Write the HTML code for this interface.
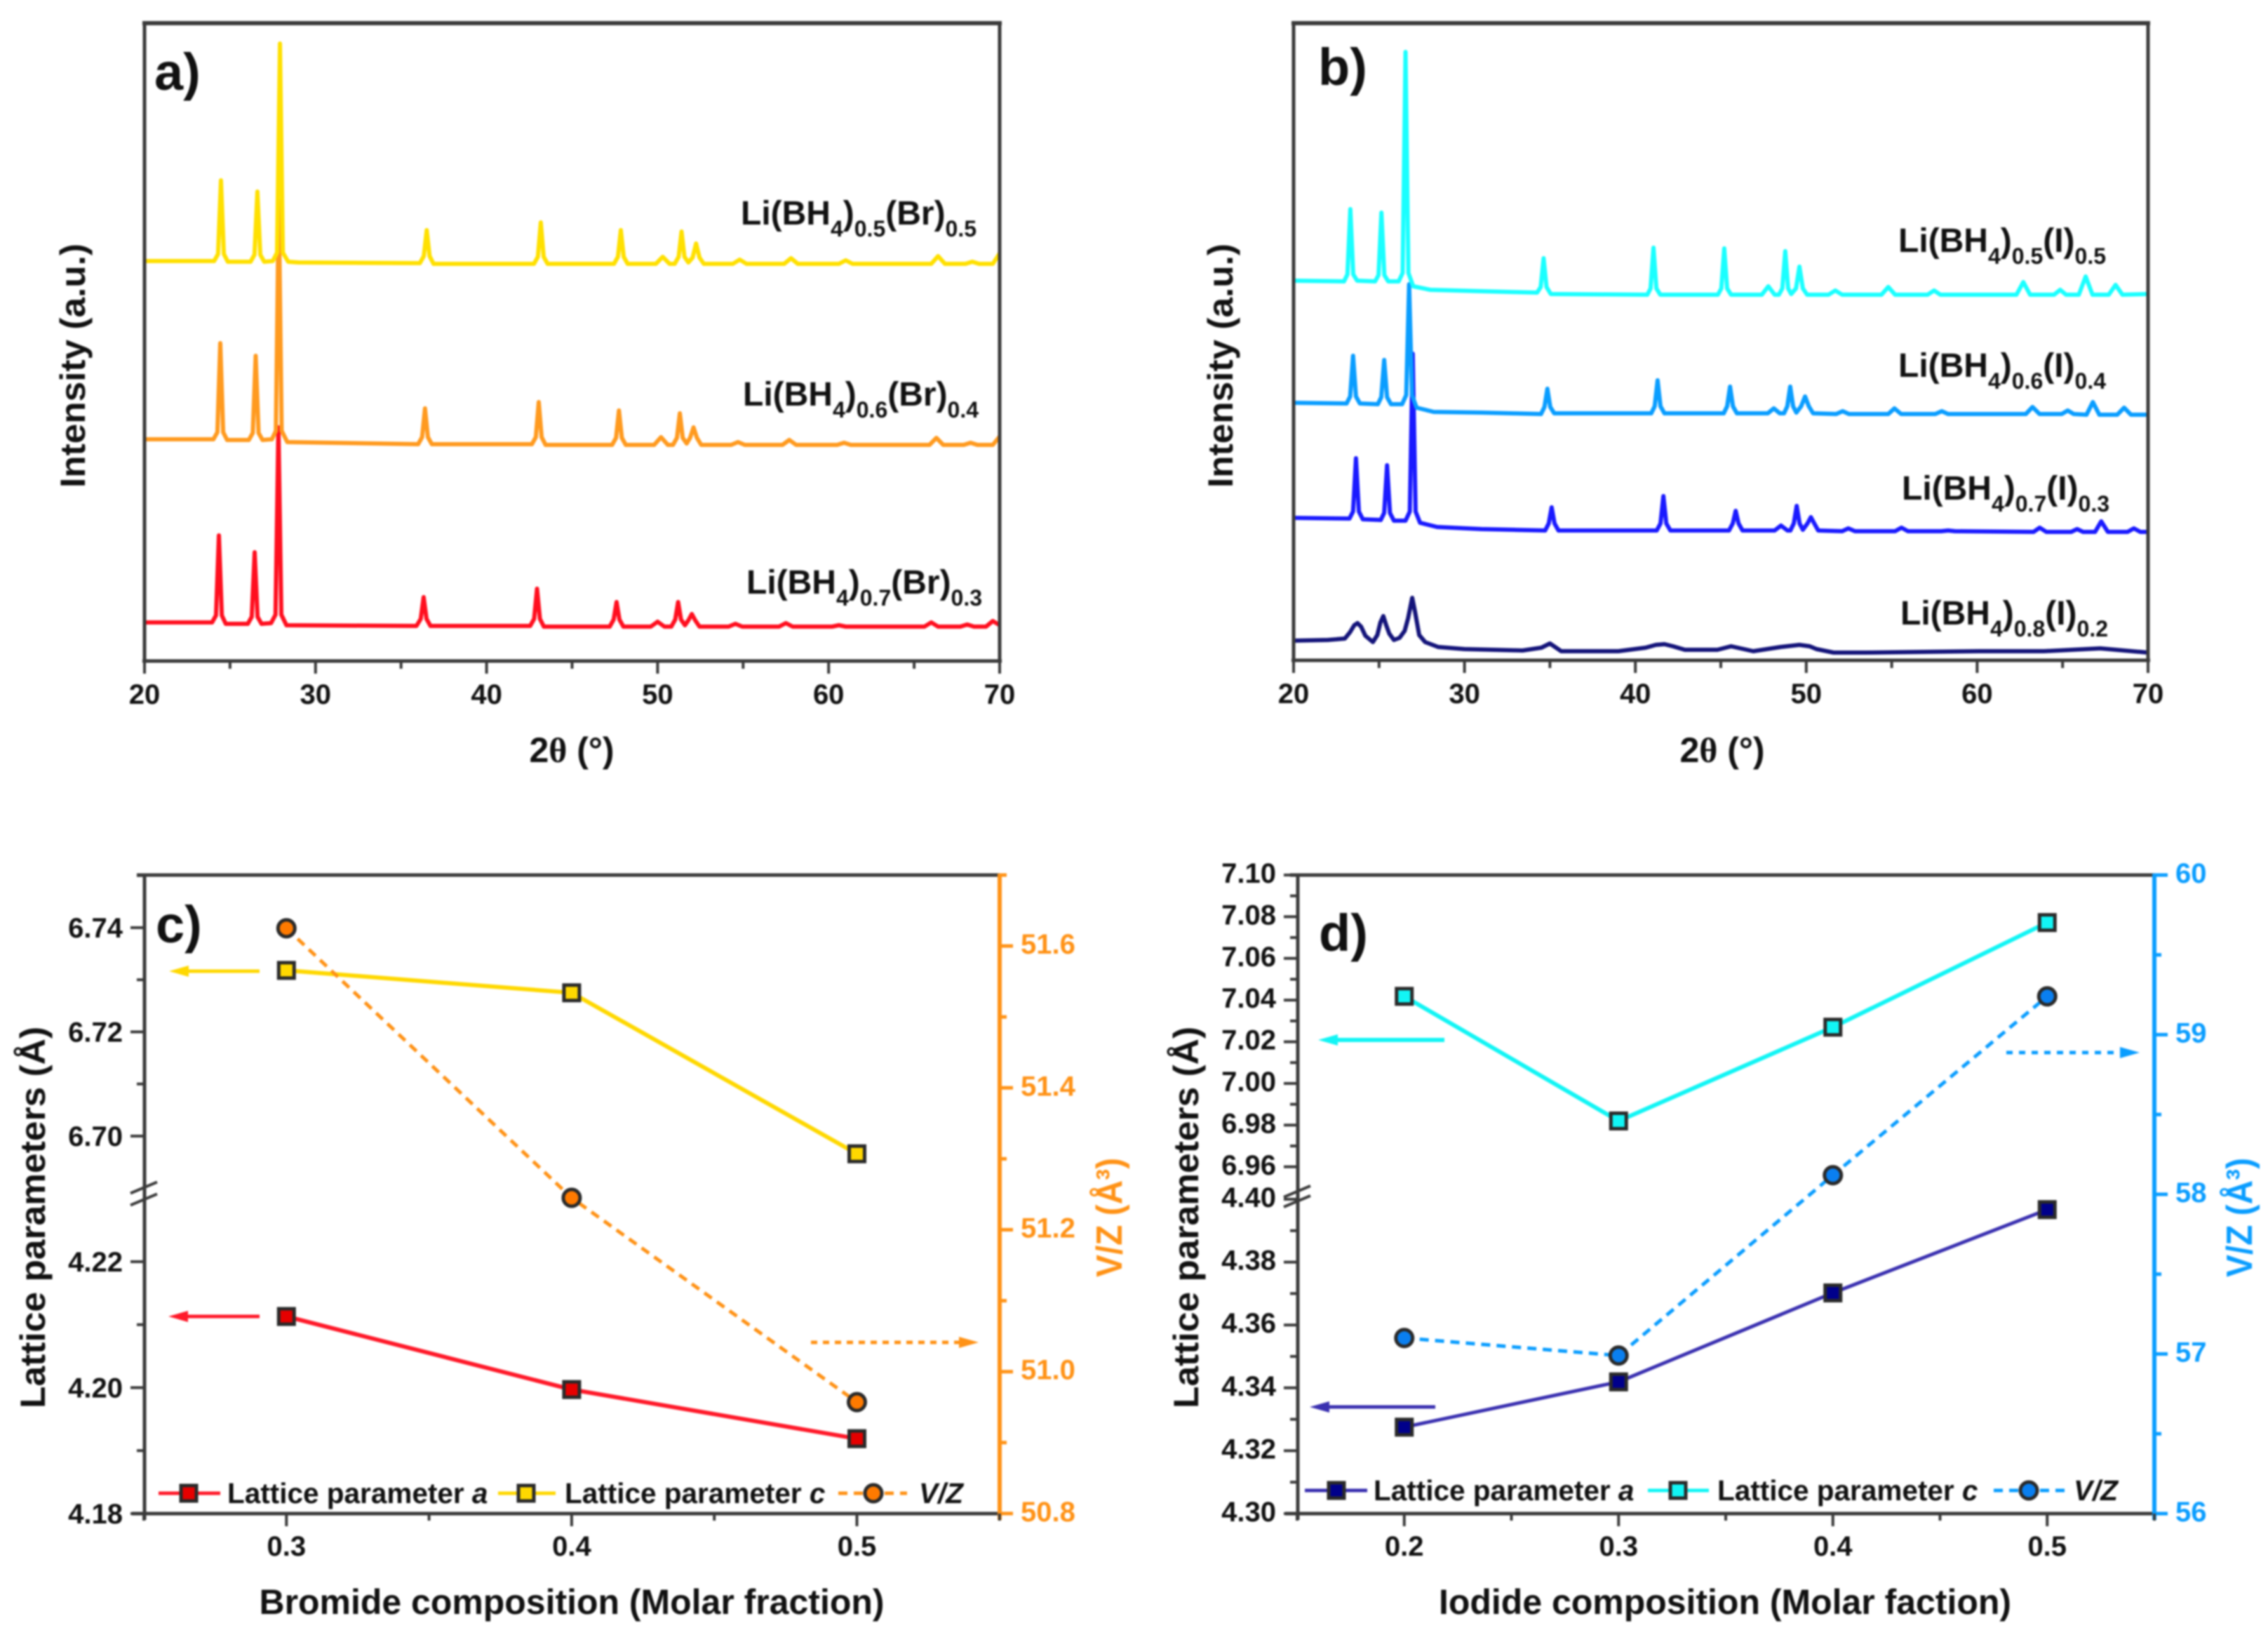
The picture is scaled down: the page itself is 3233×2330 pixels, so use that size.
<!DOCTYPE html>
<html lang="en">
<head>
<meta charset="utf-8">
<title>Li(BH4)1-x(X)x XRD patterns and lattice parameters</title>
<style>
html,body{margin:0;padding:0;background:#fff;width:3233px;height:2330px;overflow:hidden}
#figure{display:block;filter:blur(1.3px);font-family:"Liberation Sans",sans-serif;font-weight:bold;fill:#111}
.tick{font-size:40px}
.sub{font-size:32px}
.lab{font-size:48px}
.panel{font-size:74px}
.title{font-size:50px}
.leg{font-size:40.5px}
.rt{font-size:52px}
</style>
</head>
<body>
<svg id="figure" xmlns="http://www.w3.org/2000/svg" width="3233" height="2330" viewBox="0 0 3233 2330">
<rect x="0" y="0" width="3233" height="2330" fill="#fff"/>

<g id="panelA">
  <text class="panel" x="220" y="128">a)</text>
  <text class="title" transform="rotate(-90 121 521)" x="121" y="521" text-anchor="middle" textLength="348" lengthAdjust="spacingAndGlyphs">Intensity (a.u.)</text>
  <text class="title" x="815" y="1086" text-anchor="middle">2<tspan font-family="Liberation Serif">θ</tspan> (°)</text>
  <text class="lab" x="1056" y="320">Li(BH<tspan class="sub" dy="17">4</tspan><tspan dy="-17">)</tspan><tspan class="sub" dy="17">0.5</tspan><tspan dy="-17">(Br)</tspan><tspan class="sub" dy="17">0.5</tspan></text>
  <text class="lab" x="1059" y="578">Li(BH<tspan class="sub" dy="17">4</tspan><tspan dy="-17">)</tspan><tspan class="sub" dy="17">0.6</tspan><tspan dy="-17">(Br)</tspan><tspan class="sub" dy="17">0.4</tspan></text>
  <text class="lab" x="1064" y="846">Li(BH<tspan class="sub" dy="17">4</tspan><tspan dy="-17">)</tspan><tspan class="sub" dy="17">0.7</tspan><tspan dy="-17">(Br)</tspan><tspan class="sub" dy="17">0.3</tspan></text>
</g>

<g id="panelB">
  <text class="panel" x="1879" y="121">b)</text>
  <text class="title" transform="rotate(-90 1757 521)" x="1757" y="521" text-anchor="middle" textLength="348" lengthAdjust="spacingAndGlyphs">Intensity (a.u.)</text>
  <text class="title" x="2455" y="1086" text-anchor="middle">2<tspan font-family="Liberation Serif">θ</tspan> (°)</text>
  <text class="lab" x="2706" y="359">Li(BH<tspan class="sub" dy="17">4</tspan><tspan dy="-17">)</tspan><tspan class="sub" dy="17">0.5</tspan><tspan dy="-17">(I)</tspan><tspan class="sub" dy="17">0.5</tspan></text>
  <text class="lab" x="2706" y="537">Li(BH<tspan class="sub" dy="17">4</tspan><tspan dy="-17">)</tspan><tspan class="sub" dy="17">0.6</tspan><tspan dy="-17">(I)</tspan><tspan class="sub" dy="17">0.4</tspan></text>
  <text class="lab" x="2711" y="712">Li(BH<tspan class="sub" dy="17">4</tspan><tspan dy="-17">)</tspan><tspan class="sub" dy="17">0.7</tspan><tspan dy="-17">(I)</tspan><tspan class="sub" dy="17">0.3</tspan></text>
  <text class="lab" x="2709" y="890">Li(BH<tspan class="sub" dy="17">4</tspan><tspan dy="-17">)</tspan><tspan class="sub" dy="17">0.8</tspan><tspan dy="-17">(I)</tspan><tspan class="sub" dy="17">0.2</tspan></text>
</g>

<g id="panelC">
  <text class="title" transform="rotate(-90 64 1735)" x="64" y="1735" text-anchor="middle" textLength="544" lengthAdjust="spacingAndGlyphs">Lattice parameters (Å)</text>
  <text class="title" x="815" y="2300" text-anchor="middle" textLength="891" lengthAdjust="spacingAndGlyphs">Bromide composition (Molar fraction)</text>
  <text class="rt" transform="rotate(-90 1599 1735)" x="1599" y="1735" text-anchor="middle" textLength="170" lengthAdjust="spacingAndGlyphs" fill="#ff9216">V/Z (Å³)</text>
</g>

<g id="panelD">
  <text class="title" transform="rotate(-90 1708 1735)" x="1708" y="1735" text-anchor="middle" textLength="544" lengthAdjust="spacingAndGlyphs">Lattice parameters (Å)</text>
  <text class="title" x="2459" y="2300" text-anchor="middle" textLength="816" lengthAdjust="spacingAndGlyphs">Iodide composition (Molar faction)</text>
  <text class="rt" transform="rotate(-90 3210 1735)" x="3210" y="1735" text-anchor="middle" textLength="170" lengthAdjust="spacingAndGlyphs" fill="#0a9dff">V/Z (Å³)</text>
</g>
</svg>

<script>
/* ---------- chart data ---------- */
/* XRD: 2-theta (deg) and intensity (a.u.) vertices */
const brYellowTheta=[20,24.07,24.3,24.47,24.64,24.87,26.2,26.43,26.6,26.77,27,27.5,27.75,27.92,28.09,28.4,29,36.1,36.33,36.5,36.67,36.9,42.77,43,43.17,43.34,43.57,47.45,47.68,47.85,48.02,48.25,49.9,50.3,50.7,51,51.23,51.4,51.57,51.8,52.05,52.25,52.45,52.7,54.4,54.8,55.2,57.4,57.8,58.2,60.6,61,61.4,66,66.4,66.8,68,68.4,68.8,69.6,70];
const brYellowI=[570,570,580,685,580,569,569,579,669,579,569,570,582,880,582,569,568,567,577,614,577,566,566,576,625,576,566,566,576,614,576,566,566,576,566,566,576,612,576,568,575,595,575,566,566,572,566,566,574,566,566,571,566,566,577,566,566,569,566,566,581];
const brOrangeTheta=[20,24.03,24.26,24.43,24.6,24.83,26.1,26.33,26.5,26.67,26.9,27.45,27.68,27.85,28.02,28.35,36,36.23,36.4,36.57,36.8,42.65,42.88,43.05,43.22,43.45,47.34,47.57,47.74,47.91,48.14,49.8,50.2,50.6,50.9,51.13,51.3,51.47,51.7,51.9,52.1,52.3,52.55,54.3,54.7,55.1,57.3,57.7,58.1,60.5,60.9,61.3,65.9,66.3,66.7,67.9,68.3,68.7,69.6,70];
const brOrangeI=[316,316,326,453,326,315,315,325,435,325,315,316,328,657,328,312,309,319,360,319,309,309,319,369,319,308,308,318,357,318,308,308,319,308,308,318,353,318,310,318,333,318,308,308,312,308,308,315,308,308,311,308,308,318,308,308,311,308,308,320];
const brRedTheta=[20,23.95,24.18,24.35,24.52,24.75,26.04,26.27,26.44,26.61,26.84,27.4,27.66,27.83,28,28.3,35.9,36.15,36.32,36.49,36.72,42.55,42.78,42.95,43.12,43.35,47.2,47.43,47.6,47.77,48,49.6,50,50.4,50.8,51.03,51.2,51.37,51.6,51.8,52,52.2,52.45,54.15,54.55,54.95,57.1,57.5,57.9,60.2,60.6,61,65.6,66,66.4,67.7,68.1,68.5,69.2,69.6,70];
const brRedI=[55,55,65,179,65,53,53,63,155,63,53,54,66,333,66,51,50,60,91,60,50,50,60,103,60,49,49,59,84,59,49,49,56,49,49,59,84,59,51,58,67,58,49,49,53,49,49,54,49,49,51,49,49,55,49,49,52,49,49,57,51];

const iCyanTheta=[20,22.95,23.15,23.32,23.49,23.72,24.77,24.97,25.14,25.31,25.54,26.15,26.38,26.55,26.72,27,28,31,34.25,34.46,34.63,34.8,35.05,40.7,40.89,41.06,41.23,41.46,44.83,45.03,45.2,45.37,45.6,47.4,47.78,48.15,48.4,48.6,48.77,48.94,49.12,49.4,49.6,49.8,50.05,51.3,51.7,52.1,54.4,54.8,55.2,57.1,57.48,57.85,62.3,62.7,63.1,64.5,64.86,65.2,65.95,66.35,66.75,67.7,68.1,68.5,70];
const iCyanI=[541,540,550,643,550,541,540,549,638,549,540,540,552,867,552,533,528,526,524,532,573,532,522,521,530,588,530,521,521,530,587,530,521,521,533,521,521,530,583,530,522,530,561,530,521,521,527,521,521,532,521,521,527,521,521,539,521,521,528,521,521,547,521,521,535,521,522];
const iLightTheta=[20,23.1,23.31,23.48,23.65,23.88,24.93,25.13,25.3,25.47,25.7,26.35,26.59,26.76,26.93,27.2,28.2,31,34.48,34.68,34.85,35.02,35.25,40.93,41.13,41.3,41.47,41.7,45.17,45.37,45.54,45.71,45.94,47.75,48.1,48.45,48.7,48.89,49.06,49.23,49.42,49.7,49.93,50.15,50.4,51.75,52.13,52.5,54.8,55.16,55.55,57.55,57.93,58.3,62.85,63.24,63.65,64.95,65.3,65.65,66.4,66.77,67.15,68.2,68.6,69,70];
const iLightI=[367,366,376,434,376,366,365,375,428,375,365,365,378,536,378,360,354,353,351,361,387,361,352,352,362,399,362,352,352,362,390,362,352,352,359,352,352,362,390,362,353,362,376,362,352,351,355,351,351,359,351,351,355,351,351,361,351,351,356,351,350,368,350,350,360,350,350];
const iBlueTheta=[20,23.27,23.48,23.65,23.82,24.05,25.1,25.3,25.47,25.64,25.87,26.55,26.8,26.97,27.14,27.4,28.4,31,34.72,34.93,35.1,35.27,35.5,41.25,41.47,41.64,41.81,42.05,45.48,45.7,45.87,46.04,46.27,48.15,48.52,48.9,49.07,49.27,49.44,49.61,49.8,50.07,50.27,50.47,50.7,52.1,52.46,52.85,55.2,55.57,55.95,57.9,58.3,58.7,63.3,63.66,64.05,65.5,65.85,66.2,66.9,67.26,67.65,68.8,69.17,69.55,70];
const iBlueI=[203,202,212,288,212,201,200,210,278,210,199,199,212,437,212,196,190,187,185,195,218,195,185,185,195,234,195,185,185,195,213,195,185,185,192,185,185,195,220,195,186,195,204,195,185,184,188,184,184,189,184,184,185,184,183,189,183,183,187,183,183,198,183,183,188,183,183];
const iNavyTheta=[20,22,23,23.3,23.55,23.74,23.95,24.2,24.64,24.9,25.08,25.25,25.42,25.6,25.87,26.2,26.5,26.7,26.94,27.1,27.35,27.7,28.46,30,33.4,34.5,35,35.3,35.66,37,39,40.6,41.2,41.7,42.2,42.9,44.8,45.6,46.9,48.5,49.6,50.2,50.6,51.6,53.5,60.1,63.9,67.2,70];
const iNavyI=[28,29,31,40,50,53,48,35,26,36,54,63,50,38,29,32,42,60,89,70,36,26,19,16,14,18,24,19,13,13,13,18,22,23,20,15,15,20,13,19,22,20,16,11,11,13,13,17,11];

const xrdMajorTicks=[20,30,40,50,60,70];
const xrdMinorTicks=[25,35,45,55,65];

/* Panel c */
const brComposition=[0.3,0.4,0.5];
const brLatticeA=[4.2113,4.1997,4.1919];
const brLatticeC=[6.7318,6.7275,6.6966];
const brVolume=[51.625,51.245,50.957];
const cLeftMajorTicks=[6.74,6.72,6.70,4.22,4.20,4.18];
const cLeftMinorTicks=[6.75,6.73,6.71,4.21,4.19];
const cRightMajorTicks=[51.6,51.4,51.2,51.0,50.8];
const cRightMinorTicks=[51.7,51.5,51.3,51.1,50.9];
const cBottomMajorTicks=[0.3,0.4,0.5];
const cBottomMinorTicks=[0.25,0.35,0.45,0.55];

/* Panel d */
const iComposition=[0.2,0.3,0.4,0.5];
const iLatticeA=[4.3275,4.3419,4.3702,4.3967];
const iLatticeC=[7.0418,6.982,7.027,7.0772];
const iVolume=[57.10,56.99,58.12,59.24];
const dLeftMajorTicks=[7.10,7.08,7.06,7.04,7.02,7.00,6.98,6.96,4.40,4.38,4.36,4.34,4.32,4.30];
const dLeftMinorTicks=[7.09,7.07,7.05,7.03,7.01,6.99,6.97,4.39,4.37,4.35,4.33,4.31];
const dRightMajorTicks=[60,59,58,57,56];
const dRightMinorTicks=[59.5,58.5,57.5,56.5];
const dBottomMajorTicks=[0.2,0.3,0.4,0.5];
const dBottomMinorTicks=[0.15,0.25,0.35,0.45,0.55];

/* ---------- helpers ---------- */
const NS='http://www.w3.org/2000/svg';
const DARK='#3a3a3a';
function mk(tag,attrs,name,parent){
  const el=document.createElementNS(NS,tag);
  for(const k in attrs){el.setAttribute(k,attrs[k]);}
  
  
  parent.appendChild(el);
  return el;
}
function hLine(p,x1,x2,y,c,w,n){return mk('line',{x1:x1,x2:x2,y1:y,y2:y,stroke:c,'stroke-width':w},n,p);}
function vLine(p,x,y1,y2,c,w,n){return mk('line',{x1:x,x2:x,y1:y1,y2:y2,stroke:c,'stroke-width':w},n,p);}
function label(p,s,x,y,anchor,fill,n,cls){
  const t=mk('text',{x:x,y:y,'text-anchor':anchor,fill:fill,class:cls||'tick'},n,p);
  t.textContent=s;
  return t;
}
function polyline(p,pts,color,w,dash,n){
  const a={points:pts.map(q=>q[0].toFixed(2)+','+q[1].toFixed(2)).join(' '),fill:'none',stroke:color,'stroke-width':w,'stroke-linejoin':'round','stroke-linecap':'butt'};
  if(dash){a['stroke-dasharray']=dash;}
  return mk('polyline',a,n,p);
}
function square(p,x,y,fill,n){return mk('rect',{x:x-11,y:y-11,width:22,height:22,fill:fill,stroke:'#2a2a2a','stroke-width':5},n,p);}
function circle(p,x,y,fill,n){return mk('circle',{cx:x,cy:y,r:12,fill:fill,stroke:'#2a2a2a','stroke-width':5},n,p);}
function arrow(p,x1,x2,y,color,w,dash,n){
  const dir=x2>x1?1:-1;
  polyline(p,[[x1,y],[x2-dir*20,y]],color,w,dash,n+'-shaft');
  const pts=[[x2,y],[x2-dir*28,y-8],[x2-dir*28,y+8]].map(q=>q.join(',')).join(' ');
  mk('polygon',{points:pts,fill:color},n+'-head',p);
}
function breakMark(p,x,y,gap){
  mk('line',{x1:x-20,y1:y-gap/2+8,x2:x+18,y2:y-gap/2-8,stroke:DARK,'stroke-width':4},'axis-break-slash-upper',p);
  mk('line',{x1:x-20,y1:y+gap/2+8,x2:x+18,y2:y+gap/2-8,stroke:DARK,'stroke-width':4},'axis-break-slash-lower',p);
}

/* ---------- panels a, b: XRD ---------- */
function drawXrd(id,left,right,top,bottom,series,letter){
  const p=document.getElementById(id);
  const xS=t=>left+(t-20)*(right-left)/50;
  const yS=v=>bottom-v;
  series.forEach(s=>{
    polyline(p,s.theta.map((t,i)=>[xS(t),yS(s.i[i])]),s.color,6,null,'xrd-line-'+s.name);
  });
  hLine(p,left-3,right+3,top,DARK,6,'top-spine-'+letter);
  vLine(p,left,top,bottom,DARK,5,'left-spine-'+letter);
  vLine(p,right,top,bottom,DARK,5,'right-spine-'+letter);
  hLine(p,left-3,right+3,bottom,DARK,5,'x-axis-'+letter);
  xrdMajorTicks.forEach(t=>{
    vLine(p,xS(t),bottom,bottom+18,DARK,4,'x-tick-'+t);
    label(p,String(t),xS(t),bottom+61,'middle','#111','x-tick-label-'+t);
  });
  xrdMinorTicks.forEach(t=>{
    vLine(p,xS(t),bottom,bottom+11,DARK,4,'x-minor-tick-'+t);
  });
}
drawXrd('panelA',206,1425,33,942,[
  {name:'br-0-3',color:'#ff0f1f',theta:brRedTheta,i:brRedI},
  {name:'br-0-4',color:'#ff9a1f',theta:brOrangeTheta,i:brOrangeI},
  {name:'br-0-5',color:'#ffe000',theta:brYellowTheta,i:brYellowI}
],'a');
drawXrd('panelB',1844,3062,33,941,[
  {name:'i-0-2',color:'#14147a',theta:iNavyTheta,i:iNavyI},
  {name:'i-0-3',color:'#1a1aff',theta:iBlueTheta,i:iBlueI},
  {name:'i-0-4',color:'#0a9dff',theta:iLightTheta,i:iLightI},
  {name:'i-0-5',color:'#1affff',theta:iCyanTheta,i:iCyanI}
],'b');

/* ---------- panels c, d: lattice parameters ---------- */
function drawFrame(p,c){
  hLine(p,c.left-11,c.right,c.top,DARK,5,'top-spine');
  vLine(p,c.left,c.top,c.bottom+9,DARK,5,'left-spine');
  hLine(p,c.left-18,c.right,c.bottom,DARK,5,'x-axis');
  vLine(p,c.right,c.top-2,c.bottom+9,c.accent,6,'right-axis');
  c.leftMajor.forEach(v=>{
    hLine(p,c.left-20,c.left,c.yL(v),DARK,4,'left-tick-'+v);
    label(p,v.toFixed(2),c.left-31,c.yL(v)+c.leftDy,'end','#111','left-tick-label-'+v.toFixed(2));
  });
  c.leftMinor.forEach(v=>{
    hLine(p,c.left-11,c.left,c.yL(v),DARK,4,'left-minor-tick-'+v);
  });
  c.rightMajor.forEach(v=>{
    hLine(p,c.right,c.right+19,c.yR(v),c.accent,5,'right-tick-'+v);
    label(p,c.rightFmt(v),c.right+30,c.yR(v)+11,'start',c.accent,'right-tick-label-'+v);
  });
  c.rightMinor.forEach(v=>{
    hLine(p,c.right,c.right+10,c.yR(v),c.accent,5,'right-minor-tick-'+v);
  });
  c.bottomMajor.forEach(v=>{
    vLine(p,c.x(v),c.bottom,c.bottom+18,DARK,4,'x-tick-'+v);
    label(p,v.toFixed(1),c.x(v),c.bottom+60,'middle','#111','x-tick-label-'+v.toFixed(1));
  });
  c.bottomMinor.forEach(v=>{
    vLine(p,c.x(v),c.bottom,c.bottom+10,DARK,4,'x-minor-tick-'+v);
  });
  breakMark(p,c.left,c.breakY,c.breakGap);
}
function drawSeries(p,c,comp,a,cc,vz){
  polyline(p,comp.map((x,i)=>[c.x(x),c.yL(a[i])]),c.colA,c.wA,null,'line-lattice-a');
  polyline(p,comp.map((x,i)=>[c.x(x),c.yL(cc[i])]),c.colC,6,null,'line-lattice-c');
  polyline(p,comp.map((x,i)=>[c.x(x),c.yR(vz[i])]),c.colV,5,'13 9','line-volume');
  comp.forEach((x,i)=>{
    circle(p,c.x(x),c.yR(vz[i]),c.fillV,'marker-volume-'+x);
    square(p,c.x(x),c.yL(cc[i]),c.fillC,'marker-lattice-c-'+x);
    square(p,c.x(x),c.yL(a[i]),c.fillA,'marker-lattice-a-'+x);
  });
}
function legendEntry(p,kind,x1,x2,mx,y,color,fill,dash,text,tx,italic,n){
  polyline(p,[[x1,y],[x2,y]],color,5,dash,n+'-line');
  if(kind==='s'){square(p,mx,y,fill,n+'-marker');}else{circle(p,mx,y,fill,n+'-marker');}
  const t=mk('text',{x:tx,y:y+14,class:'leg',fill:'#111'},n+'-text',p);
  if(text){
    const a=mk('tspan',{},n+'-text-roman',t);
    a.textContent=text+' ';
  }
  const b=mk('tspan',{'font-style':'italic'},n+'-text-italic',t);
  b.textContent=italic;
}

const cCfg={left:206,right:1425,top:1247,bottom:2157,accent:'#ff9216',breakY:1701,breakGap:17,leftDy:14,
  x:v=>205+(v-0.25)*4066,
  yL:v=>v>5?1322+(6.74-v)*7425:2157-(v-4.18)*8975,
  yR:v=>1247+(51.7-v)*1011,
  rightFmt:v=>v.toFixed(1),
  leftMajor:cLeftMajorTicks,leftMinor:cLeftMinorTicks,rightMajor:cRightMajorTicks,rightMinor:cRightMinorTicks,
  bottomMajor:cBottomMajorTicks,bottomMinor:cBottomMinorTicks,
  colA:'#ff1a2a',colC:'#ffd800',colV:'#ff9216',wA:6,fillA:'#e60000',fillC:'#ffd800',fillV:'#ff7a00'};
const pC=document.getElementById('panelC');
drawFrame(pC,cCfg);
drawSeries(pC,cCfg,brComposition,brLatticeA,brLatticeC,brVolume);
mk('text',{x:222,y:1343,class:'panel'},'panel-label-c',pC).textContent='c)';
arrow(pC,370,241,1384,'#ffd800',5,null,'arrow-lattice-c');
arrow(pC,370,240,1876,'#ff1a2a',5,null,'arrow-lattice-a');
arrow(pC,1156,1395,1913,'#ff9216',5,'9 8','arrow-volume');
legendEntry(pC,'s',226,314,269,2128,'#ff1a2a','#e60000',null,'Lattice parameter',324,'a','legend-entry-a');
legendEntry(pC,'s',710,792,750,2128,'#ffd800','#ffd800',null,'Lattice parameter',805,'c','legend-entry-c');
legendEntry(pC,'c',1195,1293,1245,2128,'#ff9216','#ff7a00','13 9','',1310,'V/Z','legend-entry-volume');

const dCfg={left:1850,right:3071,top:1247,bottom:2157,accent:'#0a9dff',breakY:1705,breakGap:14,leftDy:11,
  x:v=>1849+(v-0.15)*3055,
  yL:v=>v>5?1247+(7.10-v)*2970:2157-(v-4.30)*4480,
  yR:v=>1247+(60-v)*227.5,
  rightFmt:v=>String(v),
  leftMajor:dLeftMajorTicks,leftMinor:dLeftMinorTicks,rightMajor:dRightMajorTicks,rightMinor:dRightMinorTicks,
  bottomMajor:dBottomMajorTicks,bottomMinor:dBottomMinorTicks,
  colA:'#3a30b0',colC:'#12f5f5',colV:'#0a9dff',wA:5,fillA:'#00008b',fillC:'#12f5f5',fillV:'#0a7ff0'};
const pD=document.getElementById('panelD');
drawFrame(pD,dCfg);
drawSeries(pD,dCfg,iComposition,iLatticeA,iLatticeC,iVolume);
mk('text',{x:1880,y:1355,class:'panel'},'panel-label-d',pD).textContent='d)';
arrow(pD,2059,1879,1482,'#12f5f5',6,null,'arrow-lattice-c');
arrow(pD,2046,1867,2005,'#3a30b0',5,null,'arrow-lattice-a');
arrow(pD,2860,3050,1500,'#0a9dff',5,'9 9','arrow-volume');
legendEntry(pD,'s',1860,1949,1905,2124,'#3a30b0','#00008b',null,'Lattice parameter',1958,'a','legend-entry-a');
legendEntry(pD,'s',2349,2436,2392,2124,'#12f5f5','#12f5f5',null,'Lattice parameter',2448,'c','legend-entry-c');
legendEntry(pD,'c',2842,2943,2892,2124,'#0a9dff','#0a7ff0','13 9','',2956,'V/Z','legend-entry-volume');
</script>
</body>
</html>
